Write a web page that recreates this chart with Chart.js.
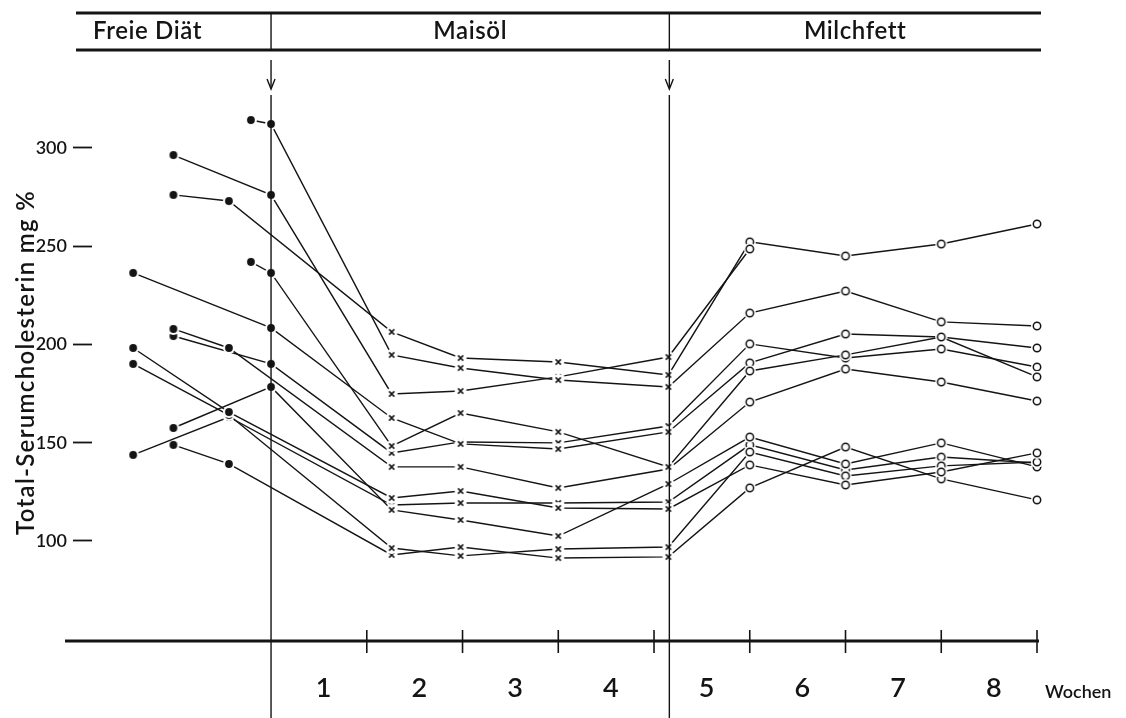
<!DOCTYPE html>
<html>
<head>
<meta charset="utf-8">
<script src="https://cdn.jsdelivr.net/npm/chart.js@4.4.1/dist/chart.umd.min.js"></script>
<style>
  html, body { margin: 0; padding: 0; background: #fff; }
  #wrap { width: 1126px; height: 718px; }
</style>
</head>
<body>
<div id="wrap"><canvas id="c" width="1126" height="718"></canvas></div>
<script>
// Measurement times in weeks (negative = free diet before the change to corn oil)
const weeks = [-1.44, -1.02, -0.44, -0.21, 0, 1.26, 1.98, 3.0, 4.15, 5, 6, 7, 8];

// Total serum cholesterol (mg %) per subject; null = not measured
const subjA = [null, null, null, 314.2, 312.2, 194.7, 188.0, 181.9, 178.4, 216.0, 227.2, 211.5, 209.4];
const subjB = [null, 296.4, null, null, 276.1, 174.8, 176.3, 183.5, 193.6, 248.6, null, null, null];
const subjC = [null, 276.1, 273.0, null, null, 206.4, 193.1, 191.1, 184.5, 252.2, 245.0, 251.1, 261.3];
const subjD = [null, null, null, 242.0, 236.4, 148.3, 165.1, 155.5, 137.7, 186.5, 194.7, 203.8, 183.5];
const subjE = [236.4, null, null, null, 208.4, 162.6, 149.4, 146.8, 155.5, 190.6, 205.3, 203.8, 198.2];
const subjF = [null, 207.9, 198.2, null, null, 137.7, 137.7, 127.0, 136.6, 170.7, 187.5, 180.9, 171.2];
const subjG = [null, 204.3, null, null, 190.1, 144.8, 150.4, 149.9, 158.5, 200.3, 193.1, 197.7, 188.5];
const subjH = [198.2, null, 165.6, null, null, 121.9, 125.4, 116.8, 116.3, 138.7, 128.5, 135.1, 144.8];
const subjI = [190.1, null, 164.1, null, null, 96.4, 92.4, 95.9, 96.9, 145.3, 133.1, 138.2, 140.2];
const subjJ = [null, 157.5, null, null, 178.4, 115.8, 110.7, 102.5, 129.0, 152.9, 139.2, 149.9, 137.7];
const subjK = [143.8, null, 163.1, null, null, 118.3, 119.3, 119.3, 119.8, 148.9, 136.1, 142.7, 139.7];
const subjL = [null, 148.9, 139.2, null, null, 92.9, 96.9, 91.3, 91.9, 127.0, 147.8, 131.6, 120.9];

const subjects = [subjA, subjB, subjC, subjD, subjE, subjF, subjG, subjH, subjI, subjJ, subjK, subjL];

// Axis ticks and labels
const yTicks = [100, 150, 200, 250, 300];
const yTitle = 'Total-Serumcholesterin mg %';
const weekTicks = [1, 2, 3, 4, 5, 6, 7, 8];
const weekLabels = ['1', '2', '3', '4', '5', '6', '7', '8'];
const weekUnit = 'Wochen';
const phaseNames = ['Freie Diät', 'Maisöl', 'Milchfett'];
const dietChanges = [0, 4.16];

const INK = '#141414';
const FONT = 'Lato, "Open Sans", sans-serif';

// Marker glyphs: filled dot (free diet), cross (corn oil), open circle (milk fat)
function makeMarker(kind) {
  const c = document.createElement('canvas');
  c.width = 16; c.height = 16;
  const g = c.getContext('2d');
  g.fillStyle = '#fff';
  g.beginPath(); g.arc(8, 8, 6, 0, Math.PI * 2); g.fill();
  g.fillStyle = INK; g.strokeStyle = INK;
  if (kind === 'dot') {
    g.beginPath(); g.arc(8, 8, 3.9, 0, Math.PI * 2); g.fill();
  } else if (kind === 'cross') {
    g.lineWidth = 1.5;
    g.beginPath();
    g.moveTo(5.4, 5.4); g.lineTo(10.6, 10.6);
    g.moveTo(10.6, 5.4); g.lineTo(5.4, 10.6);
    g.stroke();
  } else {
    g.lineWidth = 1.5;
    g.beginPath(); g.arc(8, 8, 3.7, 0, Math.PI * 2); g.stroke();
  }
  return c;
}
const markers = { dot: makeMarker('dot'), cross: makeMarker('cross'), ring: makeMarker('ring') };

function markerFor(ctx) {
  const p = ctx.raw;
  if (!p || p.x <= 0) return markers.dot;
  if (p.x < 4.5) return markers.cross;
  return markers.ring;
}

const datasets = subjects.map((vals) => ({
  data: weeks.map((w, i) => ({ x: w, y: vals[i] })).filter(p => p.y !== null),
  showLine: true,
  borderColor: INK,
  borderWidth: 1.4,
  pointStyle: markerFor,
  pointRadius: 4,
  pointHoverRadius: 4,
  tension: 0,
  clip: false
}));

// Frame: header band, diet-change dividers with arrows, week axis, y title
const frame = {
  id: 'frame',
  afterDatasetsDraw(chart) {
    const { ctx, scales: { x, y }, chartArea } = chart;
    const xs = dietChanges.map(v => x.getPixelForValue(v));
    const axisY = y.getPixelForValue(y.min);
    ctx.save();
    ctx.strokeStyle = INK;
    ctx.fillStyle = INK;
    ctx.lineCap = 'butt';

    // header band
    ctx.lineWidth = 2.8;
    [13, 50].forEach(hy => {
      ctx.beginPath(); ctx.moveTo(76, hy); ctx.lineTo(1041, hy); ctx.stroke();
    });
    ctx.lineWidth = 1.4;
    xs.forEach(px => {
      ctx.beginPath(); ctx.moveTo(px, 13); ctx.lineTo(px, 50); ctx.stroke();
      ctx.beginPath(); ctx.moveTo(px, 60); ctx.lineTo(px, 88); ctx.stroke();
      ctx.beginPath(); ctx.moveTo(px - 4, 79); ctx.lineTo(px, 89); ctx.lineTo(px + 4, 79); ctx.stroke();
      ctx.beginPath(); ctx.moveTo(px, 95); ctx.lineTo(px, 718); ctx.stroke();
    });

    ctx.font = '600 24px ' + FONT;
    ctx.textAlign = 'center';
    ctx.textBaseline = 'middle';
    ctx.letterSpacing = '0.6px';
    const headerCenters = [x.getPixelForValue(-1.29), (xs[0] + xs[1]) / 2, (xs[1] + 1041) / 2];
    phaseNames.forEach((t, i) => ctx.fillText(t, headerCenters[i], 31));

    // week axis
    ctx.letterSpacing = '0px';
    ctx.lineWidth = 2.8;
    ctx.beginPath(); ctx.moveTo(65, axisY); ctx.lineTo(x.getPixelForValue(8) + 2, axisY); ctx.stroke();
    ctx.lineWidth = 1.6;
    weekTicks.forEach(w => {
      const px = x.getPixelForValue(w);
      ctx.beginPath(); ctx.moveTo(px, axisY - 11); ctx.lineTo(px, axisY + 12); ctx.stroke();
    });
    ctx.font = '600 27px ' + FONT;
    weekLabels.forEach((t, i) => {
      ctx.fillText(t, x.getPixelForValue(weekTicks[i] - 0.45), axisY + 47);
    });
    ctx.font = '600 18px ' + FONT;
    ctx.textAlign = 'left';
    ctx.fillText(weekUnit, x.getPixelForValue(8) + 8, axisY + 51);

    // y-axis title
    ctx.translate(26, (chartArea.top + chartArea.bottom) / 2 - 8);
    ctx.rotate(-Math.PI / 2);
    ctx.textAlign = 'center';
    ctx.font = '600 24px ' + FONT;
    ctx.letterSpacing = '1.3px';
    ctx.fillText(yTitle, 0, 0);
    ctx.restore();
  }
};

new Chart(document.getElementById('c'), {
  type: 'scatter',
  data: { datasets },
  plugins: [frame],
  options: {
    responsive: false,
    animation: false,
    devicePixelRatio: 1,
    layout: { padding: { top: 100, bottom: 77, right: 89, left: 0 } },
    plugins: { legend: { display: false }, tooltip: { enabled: false } },
    scales: {
      x: { type: 'linear', min: -1.87, max: 8, display: false },
      y: {
        type: 'linear',
        min: 49.1,
        max: 324.4,
        afterBuildTicks: s => { s.ticks = yTicks.map(v => ({ value: v })); },
        afterFit: s => { s.width = 92; },
        border: { display: false },
        grid: { drawOnChartArea: false, drawTicks: true, tickLength: 19, tickWidth: 1.8, tickColor: INK },
        ticks: { color: INK, padding: 6, font: { family: FONT, size: 18, weight: '600' } }
      }
    }
  }
});
</script>
</body>
</html>
